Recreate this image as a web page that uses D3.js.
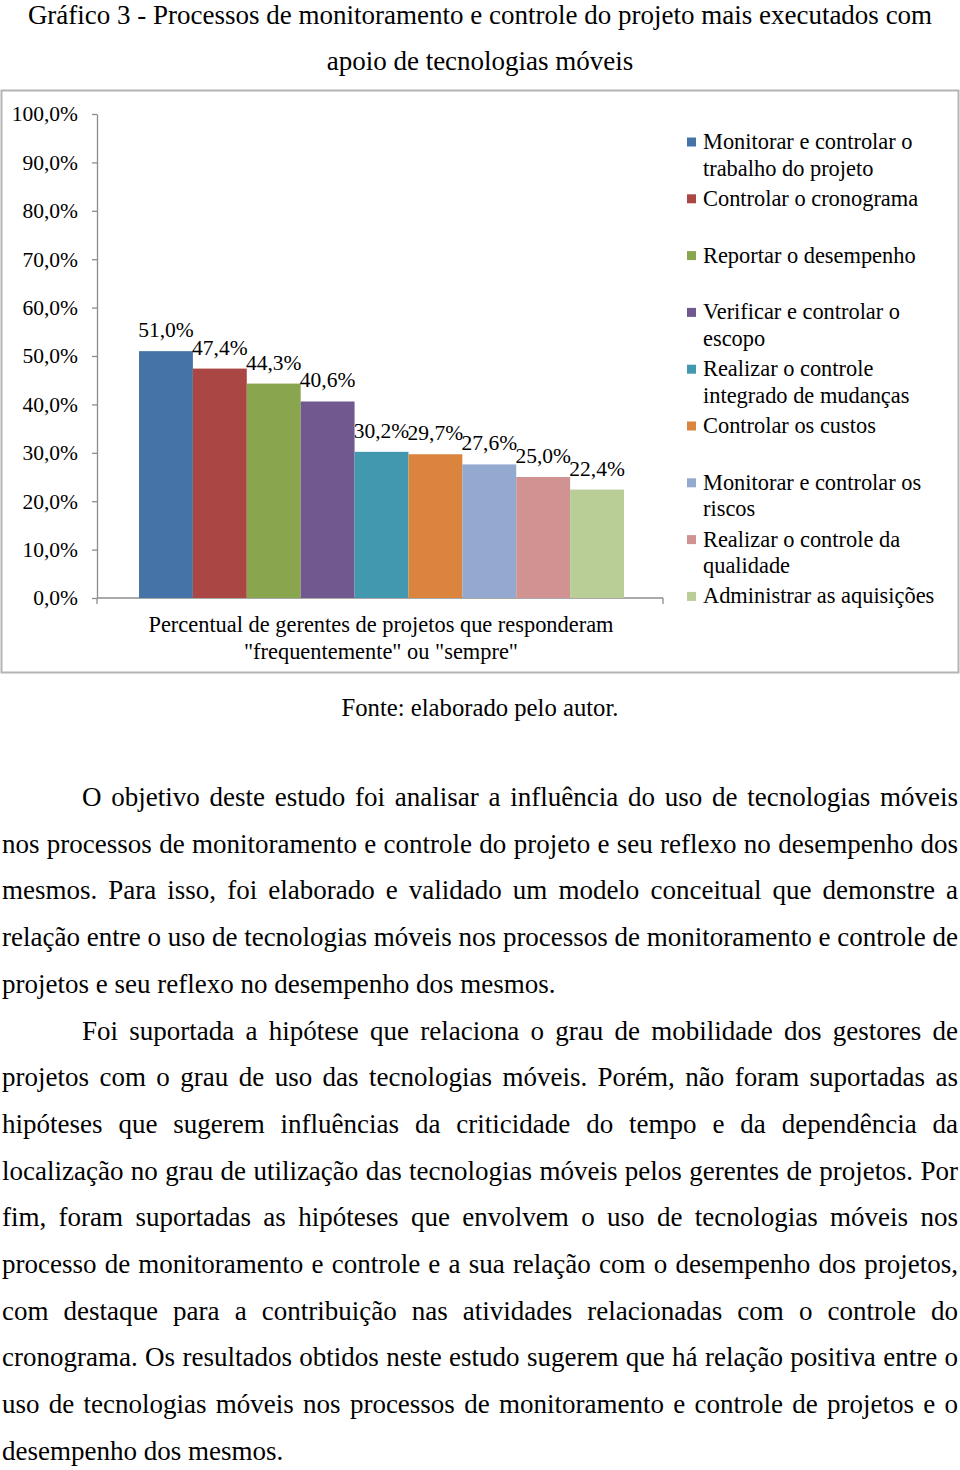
<!DOCTYPE html>
<html>
<head>
<meta charset="utf-8">
<script src="https://cdn.jsdelivr.net/npm/d3@7"></script>
<style>
  html, body { margin: 0; padding: 0; background: #fff; }
  svg { display: block; font-family: "Liberation Serif", "Times New Roman", serif; }
</style>
</head>
<body>
<script>
// Chart data
const processes = [
    "Monitorar e controlar o trabalho do projeto",
    "Controlar o cronograma",
    "Reportar o desempenho",
    "Verificar e controlar o escopo",
    "Realizar o controle integrado de mudanças",
    "Controlar os custos",
    "Monitorar e controlar os riscos",
    "Realizar o controle da qualidade",
    "Administrar as aquisições"
];
const shares = [0.510, 0.474, 0.443, 0.406, 0.302, 0.297, 0.276, 0.250, 0.224];
const colors = ["#4572A7", "#AA4643", "#89A54E", "#71588F", "#4198AF", "#DB843D", "#93A9CF", "#D19392", "#B9CD96"];
// legend labels as wrapped in the original
const legendLines = [
    ["Monitorar e controlar o", "trabalho do projeto"],
    ["Controlar o cronograma"],
    ["Reportar o desempenho"],
    ["Verificar e controlar o", "escopo"],
    ["Realizar o controle", "integrado de mudanças"],
    ["Controlar os custos"],
    ["Monitorar e controlar os", "riscos"],
    ["Realizar o controle da", "qualidade"],
    ["Administrar as aquisições"]
];
const yTicks = [0, 0.1, 0.2, 0.3, 0.4, 0.5, 0.6, 0.7, 0.8, 0.9, 1.0];
const titleLines = [
    "Gráfico 3 - Processos de monitoramento e controle do projeto mais executados com",
    "apoio de tecnologias móveis"
];
const xLabelLines = [
    "Percentual de gerentes de projetos que responderam",
    "\"frequentemente\" ou \"sempre\""
];
const sourceNote = "Fonte: elaborado pelo autor.";

// paragraph lines: [text, indent, justified]
const bodyLines = [
    ["O objetivo deste estudo foi analisar a influência do uso de tecnologias móveis", true, true],
    ["nos processos de monitoramento e controle do projeto e seu reflexo no desempenho dos", false, true],
    ["mesmos. Para isso, foi elaborado e validado um modelo conceitual que demonstre a", false, true],
    ["relação entre o uso de tecnologias móveis nos processos de monitoramento e controle de", false, true],
    ["projetos e seu reflexo no desempenho dos mesmos.", false, false],
    ["Foi suportada a hipótese que relaciona o grau de mobilidade dos gestores de", true, true],
    ["projetos com o grau de uso das tecnologias móveis. Porém, não foram suportadas as", false, true],
    ["hipóteses que sugerem influências da criticidade do tempo e da dependência da", false, true],
    ["localização no grau de utilização das tecnologias móveis pelos gerentes de projetos. Por", false, true],
    ["fim, foram suportadas as hipóteses que envolvem o uso de tecnologias móveis nos", false, true],
    ["processo de monitoramento e controle e a sua relação com o desempenho dos projetos,", false, true],
    ["com destaque para a contribuição nas atividades relacionadas com o controle do", false, true],
    ["cronograma. Os resultados obtidos neste estudo sugerem que há relação positiva entre o", false, true],
    ["uso de tecnologias móveis nos processos de monitoramento e controle de projetos e o", false, true],
    ["desempenho dos mesmos.", false, false]
];

const width = 960;
const height = 1470;

const svg = d3.select("body").append("svg")
    .attr("width", width)
    .attr("height", height);

// Title
svg.append("g")
    .selectAll("text")
    .data(titleLines)
    .join("text")
    .attr("x", width / 2)
    .attr("y", (d, i) => 24 + i * 46)
    .attr("text-anchor", "middle")
    .attr("font-size", 27)
    .text(d => d);

// Chart frame
svg.append("rect")
    .attr("x", 1.5).attr("y", 90.5)
    .attr("width", 957).attr("height", 582)
    .attr("fill", "none")
    .attr("stroke", "#b4b4b4")
    .attr("stroke-width", 2);

// Scales
const locale = d3.formatLocale({ decimal: ",", thousands: ".", grouping: [3], currency: ["R$", ""] });
const pct = locale.format(".1%");

const y = d3.scaleLinear().domain([0, 1]).range([598, 114]);
const x = d3.scaleBand().domain(processes).range([139, 624]).padding(0);
const axisLeft = 97, axisRight = 663;

// Y axis
const yAxis = svg.append("g")
    .attr("transform", `translate(${axisLeft},0)`)
    .call(d3.axisLeft(y).tickValues(yTicks).tickFormat(pct).tickSize(5).tickSizeOuter(0).tickPadding(14));
yAxis.select(".domain").attr("stroke", "#8c8c8c").attr("stroke-width", 1.3);
yAxis.selectAll(".tick line").attr("stroke", "#8c8c8c").attr("stroke-width", 1.3);
yAxis.selectAll(".tick text")
    .attr("font-size", 21.5)
    .attr("font-family", "Liberation Serif")
    .attr("fill", "#000");

// X axis line with end ticks
const xAxisG = svg.append("g").attr("stroke", "#8c8c8c").attr("stroke-width", 1.3);
xAxisG.append("line").attr("x1", axisLeft).attr("x2", axisRight).attr("y1", y(0)).attr("y2", y(0));
xAxisG.selectAll("line.end")
    .data([axisLeft, axisRight])
    .join("line")
    .attr("class", "end")
    .attr("x1", d => d).attr("x2", d => d)
    .attr("y1", y(0)).attr("y2", y(0) + 6);

// Bars
svg.append("g")
    .selectAll("rect")
    .data(processes)
    .join("rect")
    .attr("x", d => x(d))
    .attr("y", (d, i) => y(shares[i]))
    .attr("width", x.bandwidth())
    .attr("height", (d, i) => y(0) - y(shares[i]))
    .attr("fill", (d, i) => colors[i]);

// Value labels
svg.append("g")
    .selectAll("text")
    .data(processes)
    .join("text")
    .attr("x", d => x(d) + x.bandwidth() / 2)
    .attr("y", (d, i) => y(shares[i]) - 14)
    .attr("text-anchor", "middle")
    .attr("font-size", 21.5)
    .text((d, i) => pct(shares[i]));

// Category label
svg.append("g")
    .selectAll("text")
    .data(xLabelLines)
    .join("text")
    .attr("x", 381)
    .attr("y", (d, i) => 632 + i * 27)
    .attr("text-anchor", "middle")
    .attr("font-size", 22.4)
    .text(d => d);

// Legend
const legend = svg.append("g")
    .selectAll("g")
    .data(processes)
    .join("g")
    .attr("transform", (d, i) => `translate(687,${142 + i * 56.8})`);
legend.append("rect")
    .attr("x", 0).attr("y", -4.5)
    .attr("width", 9).attr("height", 9)
    .attr("fill", (d, i) => colors[i]);
legend.append("text")
    .attr("font-size", 22.4)
    .selectAll("tspan")
    .data((d, i) => legendLines[i])
    .join("tspan")
    .attr("x", 16)
    .attr("y", (d, j) => 7 + j * 26.5)
    .text(d => d);

// Source note
svg.append("text")
    .attr("x", width / 2)
    .attr("y", 716)
    .attr("text-anchor", "middle")
    .attr("font-size", 24.7)
    .text(sourceNote);

// Body paragraphs, justified word by word
const bodySize = 27;
const left = 2, right = 958, indent = 80;
const body = svg.append("g").attr("font-size", bodySize);
bodyLines.forEach(([line, ind, just], i) => {
    const baseline = 806 + i * 46.7;
    const x0 = left + (ind ? indent : 0);
    const words = line.split(" ");
    const t = body.append("text").attr("y", baseline);
    const spans = words.map(w => t.append("tspan").text(w));
    const widths = spans.map(s => s.node().getComputedTextLength());
    const total = d3.sum(widths);
    let gap = bodySize * 0.25;
    let k = 1;
    if (just) {
        gap = (right - x0 - total) / (words.length - 1);
        const minGap = bodySize * 0.18;
        if (gap < minGap) {
            k = (right - x0) / (total + minGap * (words.length - 1));
            gap = minGap;
        }
    }
    let cx = 0;
    spans.forEach((s, j) => {
        s.attr("x", cx);
        cx += widths[j] + gap;
    });
    t.attr("transform", `translate(${x0},0) scale(${k},1)`);
});
</script>
</body>
</html>
